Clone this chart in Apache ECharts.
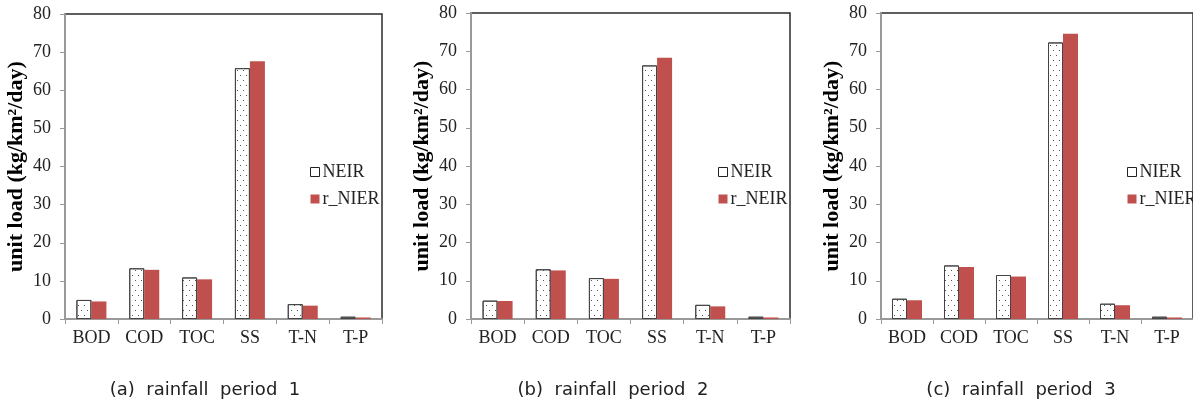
<!DOCTYPE html>
<html><head><meta charset="utf-8">
<script src="https://cdn.jsdelivr.net/npm/echarts@6/dist/echarts.min.js"></script>
<style>html,body{margin:0;padding:0;background:#fff}#c{width:1193px;height:399px}</style>
</head><body><div id="c"></div>
<script>
var categories = ['BOD','COD','TOC','SS','T-N','T-P'];
var yTicks = [0,10,20,30,40,50,60,70,80];
// period 1
var p1_NEIR  = [5.0, 13.3, 10.9, 65.8, 3.9, 0.6];
var p1_rNIER = [4.6, 12.9, 10.4, 67.6, 3.5, 0.4];
// period 2
var p2_NEIR  = [4.8, 13.0, 10.7, 66.3, 3.7, 0.6];
var p2_rNEIR = [4.7, 12.7, 10.5, 68.3, 3.3, 0.4];
// period 3
var p3_NIER  = [5.3, 14.0, 11.5, 72.3, 4.0, 0.6];
var p3_rNIER = [4.9, 13.6, 11.1, 74.6, 3.6, 0.4];
var names = [['NEIR','r_NIER'],['NEIR','r_NEIR'],['NIER','r_NIER']];
var captions = ['(a)  rainfall  period  1','(b)  rainfall  period  2','(c)  rainfall  period  3'];
var values = [[p1_NEIR,p1_rNIER],[p2_NEIR,p2_rNEIR],[p3_NIER,p3_rNIER]];

var grids = [
  {left:65, width:317, top:14, height:305},
  {left:471, width:319, top:13, height:306},
  {left:881, width:318, top:13, height:306}
];
var legendPos = [{left:305, top:158},{left:713, top:158},{left:1122, top:158}];
var capX = [200, 608, 1016];
var serif = 'Liberation Serif';
var red = '#C0504D';
var dotDecal = {symbol:'rect', symbolSize:1, color:'#555', backgroundColor:null,
  dashArrayX:[[1,5],[0,3,1,2]], dashArrayY:[1,4]};

var option = {animation:false, grid:[], xAxis:[], yAxis:[], series:[], legend:[], title:[]};
grids.forEach(function(g,i){
  option.grid.push({left:g.left, width:g.width, top:g.top, height:g.height, show:true,
    borderColor:'#2a2a2a', borderWidth:1.5, backgroundColor:'transparent'});
  option.xAxis.push({type:'category', gridIndex:i, data:categories,
    axisLine:{lineStyle:{color:'#999', width:2}}, axisTick:{show:true, length:5, lineStyle:{color:'#999', width:1}},
    axisLabel:{fontFamily:serif, fontSize:18, color:'#222', margin:10}});
  option.yAxis.push({type:'value', gridIndex:i, min:0, max:80, interval:10,
    name:'unit load (kg/km²/day)', nameLocation:'middle', nameGap:38,
    nameTextStyle:{fontFamily:serif, fontWeight:'bold', fontSize:22, color:'#000'},
    axisLine:{show:true, lineStyle:{color:'#999', width:2}}, axisTick:{show:true, length:5, lineStyle:{color:'#999', width:1}},
    splitLine:{show:false},
    axisLabel:{fontFamily:serif, fontSize:18, color:'#222', margin:14,
      formatter:function(v){return yTicks.indexOf(v)>=0?String(v):'';}}});
  option.series.push({type:'bar', name:names[i][0], xAxisIndex:i, yAxisIndex:i, data:values[i][0],
    barWidth:15, barGap:'0%',
    itemStyle:{color:'#fff', borderColor:'#444', borderWidth:1, decal:dotDecal}});
  option.series.push({type:'bar', name:names[i][1], xAxisIndex:i, yAxisIndex:i, data:values[i][1],
    barWidth:15, barGap:'0%', itemStyle:{color:red}});
  option.legend.push({orient:'vertical', left:legendPos[i].left, top:legendPos[i].top,
    itemWidth:9, itemHeight:9, itemGap:9, selectedMode:false,
    textStyle:{fontFamily:serif, fontSize:18, color:'#222', padding:[0,0,0,-2]},
    data:[{name:names[i][0], icon:'rect', itemStyle:{color:'#fff', borderColor:'#222', borderWidth:1, decal:'none'}},
          {name:names[i][1], icon:'rect', itemStyle:{color:red}}]});
  option.title.push({text:captions[i], left:capX[i], top:376, textAlign:'center',
    textStyle:{fontFamily:'DejaVu Sans', fontWeight:'normal', fontSize:18, color:'#222'}});
});
var chart = echarts.init(document.getElementById('c'), null, {renderer:'canvas'});
chart.setOption(option);
</script></body></html>
